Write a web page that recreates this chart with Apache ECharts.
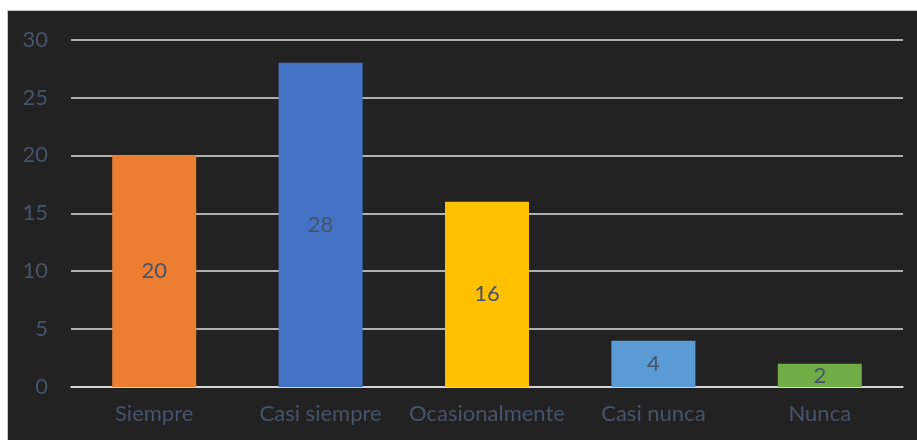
<!DOCTYPE html>
<html>
<head>
<meta charset="utf-8">
<script src="https://cdn.jsdelivr.net/npm/echarts@6/dist/echarts.min.js"></script>
<style>
  html, body { margin: 0; padding: 0; background: #ffffff; }
  #chart {
    position: absolute; left: 7px; top: 10px;
    width: 910px; height: 430px;
    border-left: 1px solid #c6c6c6; border-top: 1px solid #c6c6c6;
    background: #222222;
  }
</style>
</head>
<body>
<div id="chart"></div>
<script>
// Survey responses by frequency
const categories = ['Siempre', 'Casi siempre', 'Ocasionalmente', 'Casi nunca', 'Nunca'];
const counts = [20, 28, 16, 4, 2];
const barColors = ['#ED7D31', '#4472C4', '#FFC000', '#5B9BD5', '#70AD47'];
const yTicks = { min: 0, max: 30, interval: 5 };

const textColor = '#44546A';
const fontFamily = 'Lato, "Open Sans", sans-serif';
const fontSize = 22;

const chart = echarts.init(document.getElementById('chart'), null, { renderer: 'canvas' });
chart.setOption({
  backgroundColor: '#222222',
  animation: false,
  grid: { left: 63, right: 15, top: 28.5, bottom: 54, containLabel: false },
  xAxis: {
    type: 'category',
    data: categories,
    axisLine: { show: true, lineStyle: { color: '#e0e0e0', width: 1.5 } },
    axisTick: { show: false },
    axisLabel: {
      color: textColor, fontSize: fontSize, fontFamily: fontFamily,
      margin: 16, interval: 0, hideOverlap: false
    }
  },
  yAxis: {
    type: 'value',
    min: yTicks.min, max: yTicks.max, interval: yTicks.interval,
    axisLine: { show: false },
    axisTick: { show: false },
    axisLabel: { color: textColor, fontSize: fontSize, fontFamily: fontFamily, margin: 23 },
    splitLine: { lineStyle: { color: '#e0e0e0', width: 1.5 } }
  },
  series: [{
    type: 'bar',
    barWidth: 84,
    data: counts.map((v, i) => ({ value: v, itemStyle: { color: barColors[i] } })),
    label: {
      show: true,
      position: 'inside',
      color: textColor,
      fontSize: fontSize,
      fontFamily: fontFamily
    }
  }]
});
</script>
</body>
</html>
